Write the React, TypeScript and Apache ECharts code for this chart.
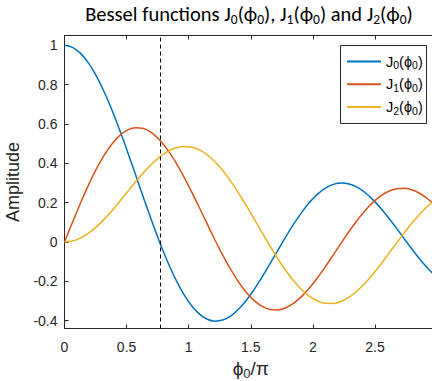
import React, { useEffect, useRef } from "react";
import * as echarts from "echarts";

// Argument φ0 in radians, sampled every 0.2 rad
const phi = [
  0, 0.2, 0.4, 0.6, 0.8, 1.0, 1.2, 1.4, 1.6, 1.8, 2.0, 2.2, 2.4, 2.6, 2.8, 3.0,
  3.2, 3.4, 3.6, 3.8, 4.0, 4.2, 4.4, 4.6, 4.8, 5.0, 5.2, 5.4, 5.6, 5.8, 6.0,
  6.2, 6.4, 6.6, 6.8, 7.0, 7.2, 7.4, 7.6, 7.8, 8.0, 8.2, 8.4, 8.6, 8.8, 9.0,
  9.2, 9.4, 9.6,
];

const j0 = [
  1.0, 0.99, 0.9604, 0.912, 0.8463, 0.7652, 0.6711, 0.5669, 0.4554, 0.34,
  0.2239, 0.1104, 0.0025, -0.0968, -0.185, -0.2601, -0.3202, -0.3643, -0.3918,
  -0.4026, -0.3971, -0.3766, -0.3423, -0.2961, -0.2404, -0.1776, -0.1103,
  -0.0412, 0.027, 0.0917, 0.1506, 0.2017, 0.2433, 0.274, 0.2931, 0.3001,
  0.2951, 0.2786, 0.2516, 0.2154, 0.1717, 0.1222, 0.0692, 0.0146, -0.0392,
  -0.0903, -0.1367, -0.1768, -0.209,
];

const j1 = [
  0.0, 0.0995, 0.196, 0.2867, 0.3688, 0.4401, 0.4983, 0.5419, 0.5699, 0.5815,
  0.5767, 0.556, 0.5202, 0.4708, 0.4097, 0.3391, 0.2613, 0.1792, 0.0955,
  0.0128, -0.066, -0.1386, -0.2028, -0.2566, -0.2985, -0.3276, -0.3432,
  -0.3453, -0.3343, -0.311, -0.2767, -0.2329, -0.1816, -0.125, -0.0652,
  -0.0047, 0.0543, 0.1096, 0.1592, 0.2014, 0.2346, 0.258, 0.2708, 0.2728,
  0.2641, 0.2453, 0.2174, 0.1816, 0.139,
];

const j2 = [
  0.0, 0.005, 0.0197, 0.0437, 0.0758, 0.1149, 0.1593, 0.2074, 0.257, 0.3061,
  0.3528, 0.3951, 0.431, 0.459, 0.4776, 0.4861, 0.4835, 0.4697, 0.4449,
  0.4093, 0.3641, 0.3106, 0.2501, 0.1845, 0.116, 0.0466, -0.0217, -0.0867,
  -0.1464, -0.1989, -0.2429, -0.2768, -0.3001, -0.3119, -0.3123, -0.3014,
  -0.28, -0.249, -0.2097, -0.1638, -0.113, -0.0593, -0.0047, 0.0488, 0.0992,
  0.1448, 0.184, 0.2154, 0.238,
];

const seriesNames = ["J0", "J1", "J2"];
const seriesColors = ["#0072BD", "#D95319", "#EDB120"];
const xTicks = [0, 0.5, 1, 1.5, 2, 2.5, 3];
const xTickLabels = [0, 0.5, 1, 1.5, 2, 2.5];
const yTicks = [-0.4, -0.2, 0, 0.2, 0.4, 0.6, 0.8, 1];
const xRange = [0, 3];
const yRange = [-0.44, 1.05];
// first zero of J0, in radians
const j0FirstZero = 2.4048;

const AXIS_COLOR = "#262626";
const SANS = "'Liberation Sans', Arial, Helvetica, sans-serif";
const TITLE_FONT = "Carlito, Lato, 'Open Sans', sans-serif";

const richText = (
  size: number,
  sub: number,
  family: string,
  color: string,
  lh = size + 4
) => ({
  m: { fontSize: size, fontFamily: family, lineHeight: lh, color },
  s: {
    fontSize: sub,
    fontFamily: family,
    lineHeight: sub,
    verticalAlign: "bottom",
    color,
  },
});

export default function App() {
  const ref = useRef<HTMLDivElement>(null);

  useEffect(() => {
    if (!ref.current) return;
    const chart = echarts.init(ref.current, undefined, { renderer: "svg" });

    const dataSets = [j0, j1, j2];
    const series: any[] = dataSets.map((vals, i) => ({
      name: seriesNames[i],
      type: "line",
      data: phi.map((p, k) => [p / Math.PI, vals[k]]),
      showSymbol: false,
      symbol: "none",
      smooth: 0.3,
      lineStyle: { color: seriesColors[i], width: 1.5 },
      itemStyle: { color: seriesColors[i] },
      z: 2,
    }));
    series[0].markLine = {
      silent: true,
      symbol: "none",
      label: { show: false },
      lineStyle: { type: [4, 3], color: "#000", width: 1 },
      data: [{ xAxis: j0FirstZero / Math.PI }],
    };

    const baseX = {
      type: "value",
      min: xRange[0],
      max: xRange[1],
      axisLine: {
        show: true,
        onZero: false,
        lineStyle: { color: AXIS_COLOR, width: 1 },
      },
      axisTick: {
        show: true,
        inside: true,
        length: 4,
        customValues: xTicks,
        lineStyle: { color: AXIS_COLOR },
      },
      splitLine: { show: false },
    };

    chart.setOption({
      animation: false,
      backgroundColor: "#fff",
      grid: {
        left: 64.5,
        right: 2.9,
        top: 35.5,
        bottom: 52.5,
        containLabel: false,
        outerBoundsMode: "none",
      },
      xAxis: [
        {
          ...baseX,
          position: "bottom",
          axisLabel: {
            show: true,
            customValues: xTickLabels,
            margin: 11,
            fontSize: 14,
            fontFamily: SANS,
            color: AXIS_COLOR,
          },
          name: "{m|ϕ}{s|0}{m|/π}",
          nameLocation: "middle",
          nameGap: 28,
          nameTextStyle: {
            rich: richText(19, 13, SANS, AXIS_COLOR),
          },
        },
        {
          ...baseX,
          position: "top",
          axisLabel: { show: false },
        },
      ],
      yAxis: {
        type: "value",
        min: yRange[0],
        max: yRange[1],
        axisLine: {
          show: true,
          onZero: false,
          lineStyle: { color: AXIS_COLOR, width: 1 },
        },
        axisTick: {
          show: true,
          inside: true,
          length: 4,
          customValues: yTicks,
          lineStyle: { color: AXIS_COLOR },
        },
        axisLabel: {
          show: true,
          customValues: yTicks,
          margin: 7,
          fontSize: 14,
          fontFamily: SANS,
          color: AXIS_COLOR,
        },
        splitLine: { show: false },
        name: "Amplitude",
        nameLocation: "middle",
        nameRotate: 90,
        nameGap: 38,
        nameTextStyle: { fontSize: 18, fontFamily: SANS, color: AXIS_COLOR },
      },
      legend: {
        orient: "vertical",
        left: 347,
        top: 54,
        padding: 0,
        itemWidth: 34,
        itemHeight: 2,
        itemGap: 6.3,
        icon: "rect",
        data: seriesNames,
        formatter: (name: string) =>
          `{m|J}{s|${name.slice(1)}}{m|(ϕ}{s|0}{m|)}`,
        textStyle: { rich: richText(14.5, 10.5, SANS, "#000", 18) },
        z: 10,
      },
      graphic: [
        {
          type: "rect",
          z: 5,
          shape: { x: 340.5, y: 45.5, width: 86, height: 78 },
          style: { fill: "#fff", stroke: AXIS_COLOR, lineWidth: 1 },
        },
        {
          type: "text",
          x: 249,
          y: 14,
          z: 10,
          style: {
            text: "{m|Bessel functions J}{s|0}{m|(ϕ}{s|0}{m|), J}{s|1}{m|(ϕ}{s|0}{m|) and J}{s|2}{m|(ϕ}{s|0}{m|)}",
            align: "center",
            verticalAlign: "middle",
            rich: richText(20.5, 13.5, TITLE_FONT, "#000"),
          },
        },
      ],
      series,
    });

    return () => chart.dispose();
  }, []);

  return (
    <div
      style={{
        position: "fixed",
        left: 0,
        top: 0,
        width: 432,
        height: 381,
        overflow: "hidden",
        background: "#fff",
      }}
    >
      <div ref={ref} style={{ width: 440, height: 381 }} />
    </div>
  );
}
